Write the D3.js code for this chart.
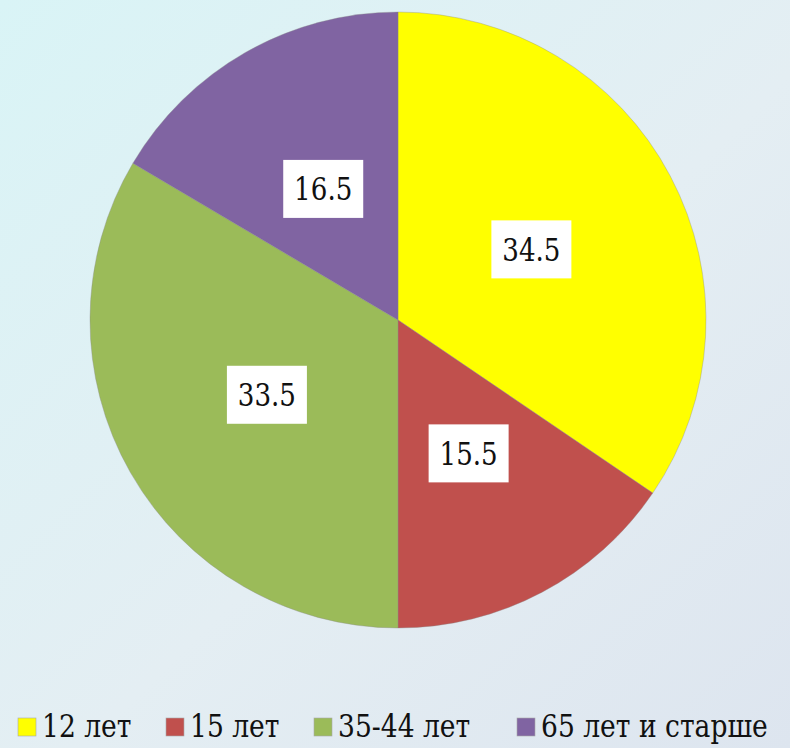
<!DOCTYPE html>
<html>
<head>
<meta charset="utf-8">
<script src="https://cdn.jsdelivr.net/npm/d3@7/dist/d3.min.js"></script>
<style>
  html, body { margin: 0; padding: 0; }
  body { width: 790px; height: 748px; overflow: hidden; }
  svg { display: block; }
</style>
</head>
<body>
<svg id="chart" width="790" height="748"></svg>
<script>
// Age groups and their shares (%)
const categories = ["12 лет", "15 лет", "35-44 лет", "65 лет и старше"];
const values = [34.5, 15.5, 33.5, 16.5];
const colors = ["#ffff00", "#c0504d", "#9bbb59", "#8064a2"];

const W = 790, H = 748;
const cx = 398, cy = 320, R = 308;
const SERIF = "DejaVu Serif";
const NARROW = 0.83; // horizontal squeeze to give the serif a Times-like width

const svg = d3.select("#chart");

// Soft diagonal background gradient
const defs = svg.append("defs");
const grad = defs.append("linearGradient")
  .attr("id", "bg").attr("x1", "0").attr("y1", "0").attr("x2", "1").attr("y2", "1");
grad.append("stop").attr("offset", "0%").attr("stop-color", "#d9f4f6");
grad.append("stop").attr("offset", "55%").attr("stop-color", "#e4eef3");
grad.append("stop").attr("offset", "100%").attr("stop-color", "#dde5ef");
svg.append("rect").attr("width", W).attr("height", H).attr("fill", "url(#bg)");

const pie = d3.pie().sort(null).value(d => d)
  .startAngle(0).endAngle(2 * Math.PI);
const arcs = pie(values);

const arc = d3.arc().innerRadius(0).outerRadius(R);
const labelArc = d3.arc().innerRadius(R * 0.49).outerRadius(R * 0.49);

const g = svg.append("g").attr("transform", `translate(${cx},${cy})`);

g.selectAll("path.slice")
  .data(arcs)
  .join("path")
  .attr("class", "slice")
  .attr("d", arc)
  .attr("fill", (d, i) => colors[i])
  .attr("stroke", "#8a8a8a")
  .attr("stroke-width", 0.6)
  .attr("stroke-opacity", 0.6);

// Value labels in white boxes
const lbl = g.selectAll("g.lbl")
  .data(arcs)
  .join("g")
  .attr("class", "lbl")
  .attr("transform", d => `translate(${labelArc.centroid(d)})`);

lbl.append("rect")
  .attr("x", -40).attr("y", -29)
  .attr("width", 80).attr("height", 58)
  .attr("fill", "#ffffff");

lbl.append("text")
  .style("font-family", SERIF)
  .style("font-size", "31.5px")
  .attr("text-anchor", "middle")
  .attr("dy", "0.36em")
  .attr("transform", `scale(${NARROW},1)`)
  .attr("fill", "#111")
  .text(d => d.data.toFixed(1));

// Legend along the bottom
const legendX = [18, 166, 314, 517];
const legend = svg.append("g");
const items = legend.selectAll("g")
  .data(categories)
  .join("g")
  .attr("transform", (d, i) => `translate(${legendX[i]},718)`);

items.append("rect")
  .attr("width", 18).attr("height", 18)
  .attr("fill", (d, i) => colors[i])
  .attr("stroke", "#a8a8a8")
  .attr("stroke-width", 0.6);

items.append("g")
  .attr("transform", "translate(24,19)")
  .append("text")
  .style("font-family", SERIF)
  .style("font-size", "32px")
  .attr("transform", `scale(${NARROW},1)`)
  .attr("fill", "#111")
  .text(d => d);
</script>
</body>
</html>
